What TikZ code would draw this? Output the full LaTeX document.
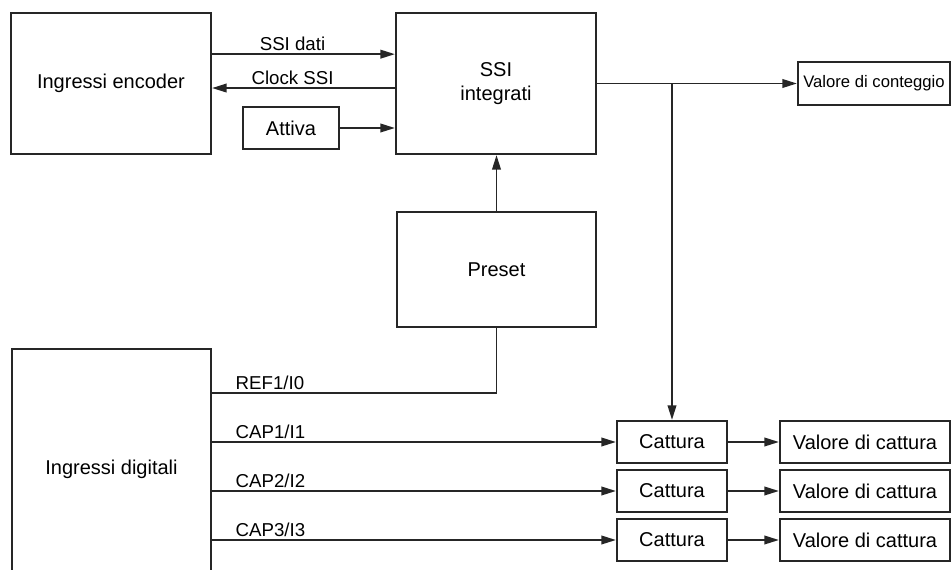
\documentclass[tikz,border=0pt]{standalone}
\usepackage{fontspec}
\setmainfont{Liberation Sans}
\usetikzlibrary{arrows.meta}

\begin{document}
\begin{tikzpicture}[
  x=0.75pt, y=-0.75pt,
  blk/.style={draw=black!85, line width=1.6pt, fill=white, inner sep=2pt, align=center,
    font=\fontsize{15}{18}\selectfont},
  lbl/.style={font=\fontsize{14}{16}\selectfont, inner sep=2pt},
  wire/.style={draw=black!85, line width=1.4pt},
  arr/.style={wire, -{Triangle[length=11pt, width=6.5pt]}}
]
  \useasboundingbox (0,0) rectangle (951,570);
  \clip (0,0) rectangle (951,570);

  % top row
  \node[blk, minimum width=150pt, minimum height=105.75pt] (enc) at (111,83.5) {Ingressi encoder};
  \node[blk, minimum width=150pt, minimum height=105.75pt] (ssi) at (496,83.5) {SSI\\integrati};
  \node[blk, minimum width=72pt, minimum height=31.5pt] (attiva) at (291,128) {Attiva};
  \node[blk, minimum width=114pt, minimum height=32.25pt, font=\fontsize{12.5}{15}\selectfont]
    (cont) at (874,83.5) {Valore di conteggio};

  % preset
  \node[blk, minimum width=149.25pt, minimum height=86.25pt] (preset) at (496.5,269.5) {Preset};

  % digital inputs (runs off the bottom edge)
  \node[blk, minimum width=149.25pt, minimum height=180pt] (dig) at (111.5,469) {Ingressi digitali};

  % capture rows
  \node[blk, minimum width=82.5pt, minimum height=31.5pt] (cap1) at (672,442) {Cattura};
  \node[blk, minimum width=82.5pt, minimum height=31.5pt] (cap2) at (672,491) {Cattura};
  \node[blk, minimum width=82.5pt, minimum height=31.5pt] (cap3) at (672,540) {Cattura};
  \node[blk, minimum width=127.5pt, minimum height=31.5pt] (val1) at (865,442) {Valore di cattura};
  \node[blk, minimum width=127.5pt, minimum height=31.5pt] (val2) at (865,491) {Valore di cattura};
  \node[blk, minimum width=127.5pt, minimum height=31.5pt] (val3) at (865,540) {Valore di cattura};

  % encoder <-> SSI
  \draw[arr] ([yshift=22pt]enc.east) -- ([yshift=22pt]enc.east -| ssi.west)
    node[lbl, pos=0.44, above] {SSI dati};
  \draw[arr] ([yshift=-3.4pt]ssi.west) -- ([yshift=-3.4pt]ssi.west -| enc.east)
    node[lbl, pos=0.56, above] {Clock SSI};
  \draw[arr] (attiva.east) -- (attiva.east -| ssi.west);

  % SSI output
  \coordinate (jn) at (cap1 |- ssi.east);
  \draw[arr] (ssi.east) -- (cont.west);
  \draw[arr] (jn) -- (cap1.north);
  \draw[arr] (preset.north) -- (preset.north |- ssi.south);

  % digital inputs
  \coordinate (refpt) at ([yshift=57pt]dig.east);
  \draw[wire] (refpt) -| (preset.south)
    node[lbl, pos=0, above right, xshift=15pt] {REF1/I0};
  \draw[arr] (cap1.west -| dig.east) -- (cap1.west)
    node[lbl, pos=0, above right, xshift=15pt] {CAP1/I1};
  \draw[arr] (cap2.west -| dig.east) -- (cap2.west)
    node[lbl, pos=0, above right, xshift=15pt] {CAP2/I2};
  \draw[arr] (cap3.west -| dig.east) -- (cap3.west)
    node[lbl, pos=0, above right, xshift=15pt] {CAP3/I3};
  \draw[arr] (cap1.east) -- (val1.west);
  \draw[arr] (cap2.east) -- (val2.west);
  \draw[arr] (cap3.east) -- (val3.west);
\end{tikzpicture}
\end{document}
